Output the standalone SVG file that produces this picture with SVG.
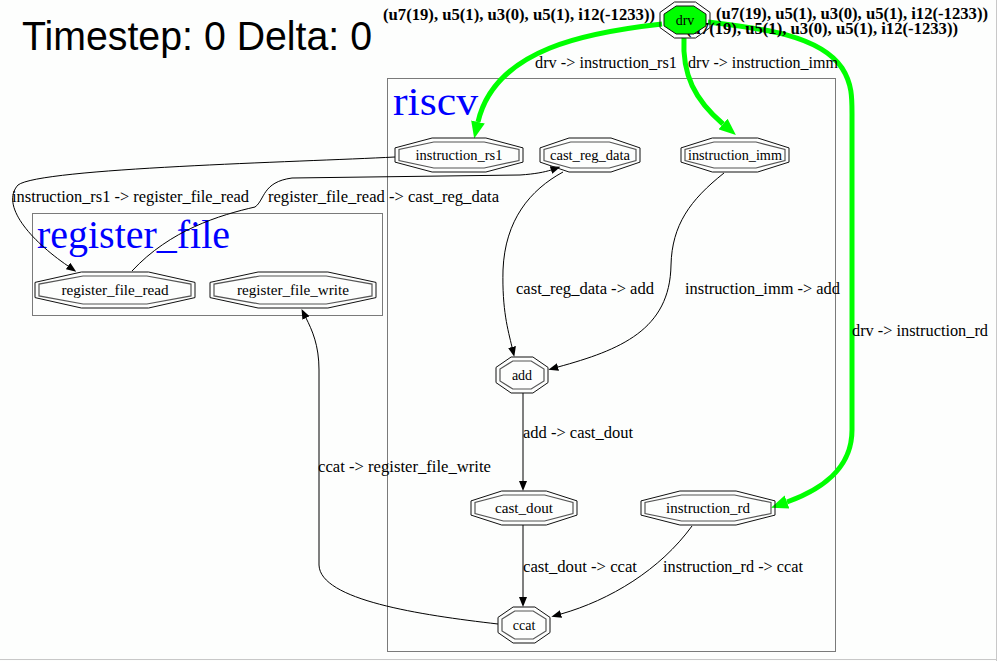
<svg xmlns="http://www.w3.org/2000/svg" width="997" height="661" viewBox="0 0 997 661">
<style>
.bg{fill:#fdfefd}
.cl{fill:none;stroke:#7a7a7a;stroke-width:1}
.clt{font-family:"Liberation Serif","Times New Roman",serif;font-size:40px;fill:#0000ff}
.no{fill:none;stroke:#111;stroke-width:1}
.ni{fill:none;stroke:#555;stroke-width:1.2}
.nt{font-family:"Liberation Serif","Times New Roman",serif;font-size:14px;fill:#000;text-anchor:middle}
.e{fill:none;stroke:#000;stroke-width:1}
.g{fill:none;stroke:#00ff00;stroke-width:5}
.el{font-family:"Liberation Serif","Times New Roman",serif;font-size:16px;fill:#000}
.bl{font-family:"Liberation Serif","Times New Roman",serif;font-size:16px;font-weight:bold;fill:#000}
.title{font-family:"Liberation Sans",Arial,sans-serif;font-size:40px;fill:#000}
</style>
<defs>
<marker id="ab" viewBox="0 0 10 8" refX="0" refY="4" markerWidth="10" markerHeight="8" markerUnits="userSpaceOnUse" orient="auto"><path d="M0,0 L10,4 L0,8 z" fill="#000"/></marker>
<marker id="ag" viewBox="0 0 17 14" refX="0" refY="7" markerWidth="17" markerHeight="14" markerUnits="userSpaceOnUse" orient="auto"><path d="M0,0 L17,7 L0,14 z" fill="#00ff00"/></marker>
</defs>
<rect class="bg" x="0" y="0" width="997" height="661"/>
<line x1="0" y1="659.5" x2="997" y2="659.5" stroke="#c8c8c8"/>
<line x1="996.5" y1="0" x2="996.5" y2="661" stroke="#c8c8c8"/>
<text class="title" x="22" y="50" textLength="350" lengthAdjust="spacingAndGlyphs">Timestep: 0 Delta: 0</text>

<g id="cluster_riscv">
<rect class="cl" x="387.5" y="78.5" width="448" height="573"/>
<text class="clt" x="393" y="115" textLength="85" lengthAdjust="spacingAndGlyphs">riscv</text>
</g>
<g id="cluster_register_file">
<rect class="cl" x="32.5" y="213.5" width="350" height="102"/>
<text class="clt" x="37" y="248" textLength="193" lengthAdjust="spacingAndGlyphs">register_file</text>
</g>

<g id="connectors">
<path class="g" d="M662,24 C590,32 495,48 478,122" marker-end="url(#ag)"/>
<path class="g" d="M684,38 C682,75 695,100 723,124" marker-end="url(#ag)"/>
<path class="g" d="M708,22 C760,28 820,35 842,68 C853,85 852,100 852,120 L852,430 C852,470 820,490 787,502" marker-end="url(#ag)"/>
<path class="e" d="M395,157 C300,162 40,168 18,185 C0,205 30,240 68,266" marker-end="url(#ab)"/>
<path class="e" d="M132,271 C170,230 220,215 255,207 C265,200 262,182 292,178 L520,175 C535,174 545,172 551,170" marker-end="url(#ab)"/>
<path class="e" d="M563,172 C530,190 505,220 503,270 C502,310 508,330 512,347" marker-end="url(#ab)"/>
<path class="e" d="M724,173 C690,200 672,225 671,265 C670,330 620,350 558,367" marker-end="url(#ab)"/>
<path class="e" d="M523,393 L523,481" marker-end="url(#ab)"/>
<path class="e" d="M523,525 L523,597" marker-end="url(#ab)"/>
<path class="e" d="M692,526 C660,570 610,600 561,614" marker-end="url(#ab)"/>
<path class="e" d="M498,624 C420,615 320,600 319,565 L319,370 C319,345 312,330 306,318" marker-end="url(#ab)"/>
<text class="el" x="535" y="68" textLength="142" lengthAdjust="spacingAndGlyphs">drv -&gt; instruction_rs1</text>
<text class="el" x="688" y="68" textLength="150" lengthAdjust="spacingAndGlyphs">drv -&gt; instruction_imm</text>
<text class="el" x="852" y="336" textLength="136" lengthAdjust="spacingAndGlyphs">drv -&gt; instruction_rd</text>
<text class="el" x="12" y="202" textLength="237" lengthAdjust="spacingAndGlyphs">instruction_rs1 -&gt; register_file_read</text>
<text class="el" x="268" y="202" textLength="231" lengthAdjust="spacingAndGlyphs">register_file_read -&gt; cast_reg_data</text>
<text class="el" x="516" y="294" textLength="138" lengthAdjust="spacingAndGlyphs">cast_reg_data -&gt; add</text>
<text class="el" x="685" y="294" textLength="155" lengthAdjust="spacingAndGlyphs">instruction_imm -&gt; add</text>
<text class="el" x="523" y="438" textLength="110" lengthAdjust="spacingAndGlyphs">add -&gt; cast_dout</text>
<text class="el" x="318" y="472" textLength="173" lengthAdjust="spacingAndGlyphs">ccat -&gt; register_file_write</text>
<text class="el" x="523" y="572" textLength="114" lengthAdjust="spacingAndGlyphs">cast_dout -&gt; ccat</text>
<text class="el" x="663" y="572" textLength="140" lengthAdjust="spacingAndGlyphs">instruction_rd -&gt; ccat</text>
<text class="bl" x="383" y="20" textLength="272" lengthAdjust="spacingAndGlyphs">(u7(19), u5(1), u3(0), u5(1), i12(-1233))</text>
<text class="bl" x="716" y="19" textLength="272" lengthAdjust="spacingAndGlyphs">(u7(19), u5(1), u3(0), u5(1), i12(-1233))</text>
<text class="bl" x="686" y="34" textLength="272" lengthAdjust="spacingAndGlyphs">(u7(19), u5(1), u3(0), u5(1), i12(-1233))</text>
</g>

<g id="drv">
<polygon class="no" fill="none" points="674.5,2 695.5,2 710,12.4 710,27.6 695.5,38 674.5,38 660,27.6 660,12.4"/>
<polygon points="676.2,6 693.8,6 706,14.1 706,25.9 693.8,34 676.2,34 664,25.9 664,14.1" fill="#00ff00" stroke="#111"/>
<text class="nt" x="685" y="25">drv</text>
</g>
<g id="instruction_rs1">
<polygon class="no" points="432.1,138 485.9,138 523,147.9 523,162.1 485.9,172 432.1,172 395,162.1 395,147.9"/>
<polygon class="ni" points="433.8,142 484.2,142 519,149.5 519,160.5 484.2,168 433.8,168 399,160.5 399,149.5"/>
<text class="nt" x="459" y="160" textLength="87" lengthAdjust="spacingAndGlyphs">instruction_rs1</text>
</g>
<g id="cast_reg_data">
<polygon class="no" points="569,138 611,138 640,147.9 640,162.1 611,172 569,172 540,162.1 540,147.9"/>
<polygon class="ni" points="570.7,142 609.3,142 636,149.5 636,160.5 609.3,168 570.7,168 544,160.5 544,149.5"/>
<text class="nt" x="590" y="160" textLength="80" lengthAdjust="spacingAndGlyphs">cast_reg_data</text>
</g>
<g id="instruction_imm">
<polygon class="no" points="712.3,138 757.7,138 789,147.9 789,162.1 757.7,172 712.3,172 681,162.1 681,147.9"/>
<polygon class="ni" points="714,142 756,142 785,149.5 785,160.5 756,168 714,168 685,160.5 685,149.5"/>
<text class="nt" x="735" y="160" textLength="94" lengthAdjust="spacingAndGlyphs">instruction_imm</text>
</g>
<g id="register_file_read">
<polygon class="no" points="81.4,272 148.6,272 195,282.4 195,297.6 148.6,308 81.4,308 35,297.6 35,282.4"/>
<polygon class="ni" points="83.1,276 146.9,276 191,284.1 191,295.9 146.9,304 83.1,304 39,295.9 39,284.1"/>
<text class="nt" x="115" y="295" textLength="107" lengthAdjust="spacingAndGlyphs">register_file_read</text>
</g>
<g id="register_file_write">
<polygon class="no" points="258.1,272 327.9,272 376,282.4 376,297.6 327.9,308 258.1,308 210,297.6 210,282.4"/>
<polygon class="ni" points="259.8,276 326.2,276 372,284.1 372,295.9 326.2,304 259.8,304 214,295.9 214,284.1"/>
<text class="nt" x="293" y="295" textLength="112" lengthAdjust="spacingAndGlyphs">register_file_write</text>
</g>
<g id="add">
<polygon class="no" points="511.1,357 532.9,357 548,367.4 548,382.6 532.9,393 511.1,393 496,382.6 496,367.4"/>
<polygon class="ni" points="512.8,361 531.2,361 544,369.1 544,380.9 531.2,389 512.8,389 500,380.9 500,369.1"/>
<text class="nt" x="522" y="380">add</text>
</g>
<g id="cast_dout">
<polygon class="no" points="501.7,491 546.3,491 577,500.9 577,515.1 546.3,525 501.7,525 471,515.1 471,500.9"/>
<polygon class="ni" points="503.4,495 544.6,495 573,502.5 573,513.5 544.6,521 503.4,521 475,513.5 475,502.5"/>
<text class="nt" x="524" y="513" textLength="58" lengthAdjust="spacingAndGlyphs">cast_dout</text>
</g>
<g id="instruction_rd">
<polygon class="no" points="679.9,491 736.1,491 775,500.9 775,515.1 736.1,525 679.9,525 641,515.1 641,500.9"/>
<polygon class="ni" points="681.5,495 734.5,495 771,502.5 771,513.5 734.5,521 681.5,521 645,513.5 645,502.5"/>
<text class="nt" x="708" y="513" textLength="84" lengthAdjust="spacingAndGlyphs">instruction_rd</text>
</g>
<g id="ccat">
<polygon class="no" points="513.1,607 534.9,607 550,617.4 550,632.6 534.9,643 513.1,643 498,632.6 498,617.4"/>
<polygon class="ni" points="514.8,611 533.2,611 546,619.1 546,630.9 533.2,639 514.8,639 502,630.9 502,619.1"/>
<text class="nt" x="524" y="630">ccat</text>
</g>
</svg>
